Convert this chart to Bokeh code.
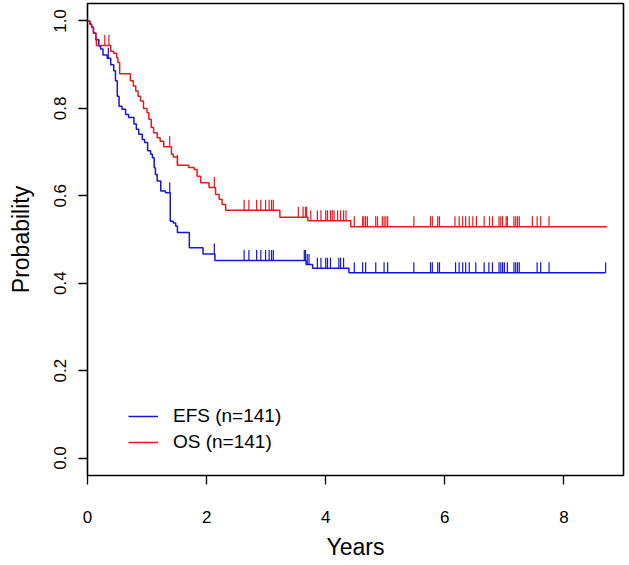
import numpy as np
from bokeh.plotting import figure
from bokeh.models import FixedTicker, PrintfTickFormatter, Legend, LegendItem, ColumnDataSource
from bokeh.embed import file_html
from bokeh.resources import INLINE

# ---- data (Kaplan-Meier curves) ----
efs_times = [0.04, 0.07, 0.10, 0.14, 0.19, 0.22, 0.26, 0.33, 0.39, 0.44, 0.47, 0.50, 0.53,
             0.58, 0.64, 0.69, 0.78, 0.82, 0.86, 0.92, 0.96, 1.01, 1.06, 1.09, 1.12, 1.14,
             1.17, 1.23, 1.31, 1.39, 1.44, 1.48, 1.51, 1.71, 1.94, 2.14, 3.67, 3.78, 4.39]
efs_surv = [0.993, 0.986, 0.972, 0.957, 0.943, 0.936, 0.922, 0.915, 0.900, 0.886, 0.863, 0.828, 0.805,
            0.798, 0.786, 0.779, 0.764, 0.752, 0.741, 0.729, 0.722, 0.703, 0.695, 0.687, 0.664, 0.649,
            0.634, 0.611, 0.607, 0.542, 0.538, 0.531, 0.516, 0.481, 0.467, 0.452, 0.443, 0.434, 0.424]
efs_end = 8.70
efs_cens = [0.35, 1.38, 2.13, 2.63, 2.71, 2.84, 2.91, 2.99, 3.05, 3.09, 3.12, 3.64, 3.66, 3.69, 3.72,
            3.86, 3.92, 4.00, 4.03, 4.08, 4.22, 4.25, 4.30, 4.48, 4.62, 4.67, 4.84, 4.98, 5.04, 5.48,
            5.76, 5.79, 5.88, 5.91, 6.18, 6.24, 6.30, 6.35, 6.41, 6.52, 6.66, 6.74, 6.80, 6.91, 6.94,
            6.97, 7.00, 7.05, 7.16, 7.19, 7.22, 7.25, 7.55, 7.61, 7.75, 8.70]

os_times = [0.04, 0.07, 0.10, 0.14, 0.15, 0.39, 0.44, 0.49, 0.51, 0.54, 0.72, 0.77, 0.81, 0.85,
            0.89, 0.94, 1.00, 1.03, 1.07, 1.11, 1.17, 1.22, 1.28, 1.41, 1.44, 1.51, 1.70, 1.79,
            1.84, 1.90, 2.04, 2.15, 2.21, 2.26, 2.32, 3.23, 3.70, 4.42]
os_surv = [0.992, 0.985, 0.973, 0.962, 0.944, 0.931, 0.926, 0.916, 0.905, 0.879, 0.863, 0.851, 0.840, 0.828,
           0.817, 0.800, 0.790, 0.775, 0.756, 0.744, 0.733, 0.725, 0.712, 0.695, 0.689, 0.670, 0.665, 0.660,
           0.645, 0.630, 0.619, 0.603, 0.592, 0.580, 0.567, 0.551, 0.543, 0.529]
os_end = 8.72
os_cens = [0.29, 0.36, 1.38, 1.51, 2.13, 2.63, 2.71, 2.84, 2.91, 2.99, 3.05, 3.09, 3.12, 3.54, 3.62,
           3.66, 3.68, 3.75, 3.86, 3.92, 4.00, 4.03, 4.08, 4.11, 4.14, 4.20, 4.25, 4.30, 4.34, 4.48,
           4.62, 4.64, 4.67, 4.70, 4.84, 4.87, 4.95, 4.98, 5.01, 5.04, 5.48, 5.76, 5.79, 5.88, 5.91,
           6.17, 6.24, 6.30, 6.35, 6.41, 6.47, 6.53, 6.66, 6.75, 6.80, 6.91, 6.94, 6.97, 7.03, 7.05,
           7.16, 7.19, 7.22, 7.25, 7.47, 7.55, 7.61, 7.75]

x_ticks = [0, 2, 4, 6, 8]
y_ticks = [0.0, 0.2, 0.4, 0.6, 0.8, 1.0]
labels = ["EFS (n=141)", "OS (n=141)"]

BLUE = "#1616d8"
RED = "#e41b1b"
FONT = "Liberation Sans"
MARK_H = 0.024

p = figure(width=629, height=565, x_range=(0, 9), y_range=(-0.04, 1.04),
           output_backend="svg", toolbar_location=None,
           min_border_left=87, min_border_right=6, min_border_top=3, min_border_bottom=90)
p.background_fill_color = "white"
p.border_fill_color = "white"
p.grid.visible = False
p.outline_line_color = "black"
p.outline_line_width = 1.6


def curve(times, surv, end, cens, color):
    xs = [0.0] + list(times) + [end]
    ys = [1.0] + list(surv) + [surv[-1]]
    r = p.step(xs, ys, mode="after", line_color=color, line_width=1.5)
    t = np.array([0.0] + list(times))
    s = np.array([1.0] + list(surv))
    idx = np.searchsorted(t, np.array(cens), side="right") - 1
    base = s[idx]
    src = ColumnDataSource(dict(x=cens, y0=base, y1=base + MARK_H))
    p.segment(x0="x", y0="y0", x1="x", y1="y1", source=src, line_color=color, line_width=1.2)
    return r


r_efs = curve(efs_times, efs_surv, efs_end, efs_cens, BLUE)
r_os = curve(os_times, os_surv, os_end, os_cens, RED)

# axes
p.xaxis.ticker = FixedTicker(ticks=x_ticks)
p.yaxis.ticker = FixedTicker(ticks=y_ticks)
p.yaxis.formatter = PrintfTickFormatter(format="%.1f")
p.xaxis.axis_label = "Years"
p.yaxis.axis_label = "Probability"
for ax in (p.xaxis, p.yaxis):
    ax.axis_line_color = None
    ax.major_tick_line_color = "black"
    ax.major_tick_line_width = 1.3
    ax.major_tick_out = 9
    ax.major_tick_in = 0
    ax.minor_tick_line_color = None
    ax.major_label_text_font = FONT
    ax.major_label_text_font_size = "17px"
    ax.major_label_text_color = "black"
    ax.axis_label_text_font = FONT
    ax.axis_label_text_font_size = "23px"
    ax.axis_label_text_font_style = "normal"
    ax.axis_label_text_color = "black"
p.xaxis.major_label_standoff = 26
p.xaxis.axis_label_standoff = 8
p.yaxis.major_label_standoff = 12
p.yaxis.major_label_orientation = "vertical"
p.yaxis.axis_label_standoff = 18

legend = Legend(items=[LegendItem(label=labels[0], renderers=[r_efs]),
                       LegendItem(label=labels[1], renderers=[r_os])],
                location=(41, 22), orientation="vertical")
legend.border_line_color = None
legend.background_fill_alpha = 0
legend.padding = 0
legend.margin = 0
legend.spacing = 4
legend.glyph_width = 30
legend.glyph_height = 20
legend.label_height = 20
legend.label_standoff = 15
legend.label_text_font = FONT
legend.label_text_font_size = "19px"
legend.label_text_color = "black"
p.add_layout(legend)

open("out.html", "w").write(file_html(p, INLINE))
